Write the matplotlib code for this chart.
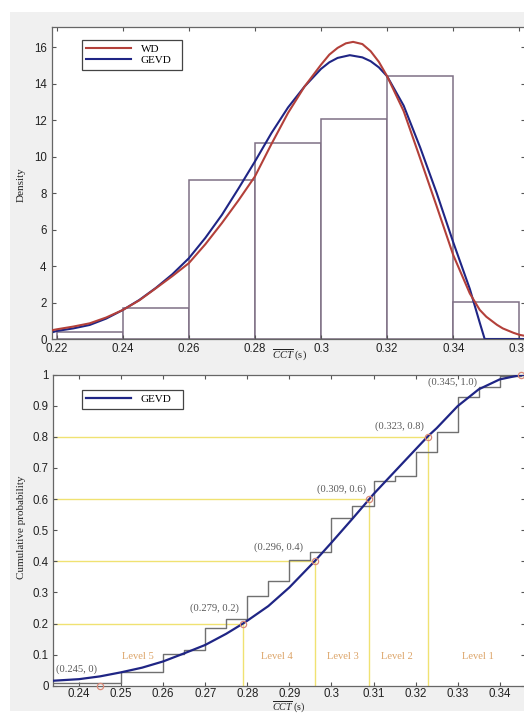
import matplotlib
matplotlib.use("Agg")
import matplotlib.pyplot as plt
from matplotlib.patches import Rectangle

# ---------------- data ----------------
# histogram of CCT (density), bin width 0.02
hist_left = [0.22, 0.24, 0.26, 0.28, 0.30, 0.32, 0.34]
hist_density = [0.37, 1.69, 8.74, 10.75, 12.09, 14.41, 2.05]
bin_width = 0.02

# fitted density curves
wd_x = [0.2186, 0.22, 0.225, 0.23, 0.235, 0.24, 0.245, 0.25, 0.255, 0.26,
        0.265, 0.27, 0.275, 0.28, 0.285, 0.29, 0.295, 0.30, 0.3025, 0.305,
        0.3075, 0.3097, 0.3125, 0.315, 0.3175, 0.32, 0.325, 0.33, 0.335, 0.34,
        0.345, 0.348, 0.35, 0.3532, 0.355, 0.3582, 0.36, 0.362]
wd_pdf = [0.48, 0.53, 0.68, 0.86, 1.18, 1.59, 2.12, 2.78, 3.45, 4.16,
          5.20, 6.36, 7.60, 8.92, 10.70, 12.40, 13.85, 15.05, 15.60, 15.97,
          16.22, 16.30, 16.18, 15.79, 15.20, 14.41, 12.50, 9.90, 7.27, 4.60,
          2.50, 1.60, 1.22, 0.78, 0.58, 0.34, 0.23, 0.16]

gevd_x = [0.2186, 0.22, 0.225, 0.23, 0.235, 0.24, 0.245, 0.25, 0.255, 0.26,
          0.265, 0.27, 0.275, 0.28, 0.285, 0.29, 0.295, 0.30, 0.3025, 0.305,
          0.3087, 0.3125, 0.315, 0.3175, 0.32, 0.325, 0.33, 0.335, 0.34, 0.345,
          0.348, 0.3495, 0.362]
gevd_pdf = [0.36, 0.44, 0.58, 0.77, 1.12, 1.59, 2.14, 2.80, 3.55, 4.43,
            5.55, 6.81, 8.25, 9.74, 11.30, 12.70, 13.85, 14.82, 15.18, 15.42,
            15.57, 15.45, 15.24, 14.90, 14.41, 12.80, 10.50, 8.00, 5.30, 2.75,
            0.90, 0.0, 0.0]

# empirical cumulative probability (step values after each x)
ecdf_x = [0.23, 0.25, 0.26, 0.265, 0.27, 0.275, 0.28, 0.285, 0.29, 0.295,
          0.30, 0.305, 0.31, 0.315, 0.32, 0.325, 0.33, 0.335, 0.34, 0.345, 0.35]
ecdf_p = [0.010, 0.043, 0.102, 0.115, 0.186, 0.216, 0.287, 0.338, 0.403, 0.431,
          0.539, 0.578, 0.659, 0.673, 0.753, 0.815, 0.929, 0.962, 0.995, 1.0, 1.0]

# fitted GEVD cumulative curve
cdf_x = [0.2339, 0.24, 0.245, 0.25, 0.255, 0.26, 0.265, 0.27, 0.275, 0.279,
         0.28, 0.285, 0.29, 0.296, 0.30, 0.305, 0.309, 0.31, 0.315, 0.32,
         0.323, 0.325, 0.33, 0.335, 0.34, 0.345, 0.347]
cdf_gevd = [0.016, 0.021, 0.030, 0.043, 0.058, 0.078, 0.104, 0.131, 0.167, 0.200,
            0.209, 0.256, 0.316, 0.400, 0.460, 0.537, 0.600, 0.616, 0.688, 0.760,
            0.803, 0.828, 0.899, 0.953, 0.985, 0.999, 1.0]

# CCT level thresholds
level_pts_x = [0.245, 0.279, 0.296, 0.309, 0.323, 0.345]
level_pts_p = [0.0, 0.2, 0.4, 0.6, 0.8, 1.0]
level_pt_labels = ["(0.245, 0)", "(0.279, 0.2)", "(0.296, 0.4)",
                   "(0.309, 0.6)", "(0.323, 0.8)", "(0.345, 1.0)"]
level_names = ["Level 5", "Level 4", "Level 3", "Level 2", "Level 1"]
level_name_x = [0.2539, 0.2870, 0.3027, 0.3155, 0.3347]

# ---------------- style ----------------
plt.rcParams.update({
    "font.family": ["Liberation Sans", "DejaVu Sans"],
    "mathtext.fontset": "custom",
    "mathtext.rm": "Liberation Serif",
    "mathtext.it": "Liberation Serif:italic",
    "axes.edgecolor": "#666666",
    "axes.linewidth": 0.9,
    "xtick.direction": "in",
    "ytick.direction": "in",
    "xtick.top": True,
    "ytick.right": True,
    "xtick.major.size": 3.2,
    "ytick.major.size": 3.2,
    "xtick.color": "#555555",
    "ytick.color": "#555555",
    "xtick.labelcolor": "#222222",
    "ytick.labelcolor": "#222222",
    "xtick.labelsize": 8.3,
    "ytick.labelsize": 8.3,
    "xtick.major.pad": 2.3,
    "ytick.major.pad": 3.2,
})

SERIF = ["Liberation Serif", "DejaVu Serif"]
RED = "#b3403a"
BLUE = "#1f2585"
HIST_EDGE = "#7e7085"
STAIR = "#707070"
YELLOW = "#f0e272"
LEVEL_TXT = "#dca468"
NOTE_TXT = "#5a5a5a"

W, H = 524, 713
fig = plt.figure(figsize=(W / 100, H / 100), dpi=100, facecolor="white")
# grey figure panel
fig.patches.append(Rectangle((10 / W, 2 / H), 1.0, (H - 14) / H,
                             transform=fig.transFigure, facecolor="#f0f0f0",
                             edgecolor="none", zorder=-10))


def fmt(v):
    return f"{v:.2f}".rstrip("0").rstrip(".")


def axes_px(left, right, top, bottom):
    return fig.add_axes([left / W, 1 - bottom / H, (right - left) / W, (bottom - top) / H])


# ---------------- top: density ----------------
ax1 = axes_px(52, 525, 27.3, 339)
ax1.bar(hist_left, hist_density, width=bin_width, align="edge",
        facecolor="white", edgecolor=HIST_EDGE, linewidth=1.1, zorder=1)
ax1.plot(wd_x, wd_pdf, color=RED, lw=1.5, label="WD", zorder=3)
ax1.plot(gevd_x, gevd_pdf, color=BLUE, lw=1.5, label="GEVD", zorder=2)
ax1.set_xlim(0.2186, 0.3617)
ax1.set_ylim(0, 17.1)
xt1 = [0.22, 0.24, 0.26, 0.28, 0.30, 0.32, 0.34, 0.36]
ax1.set_xticks(xt1)
ax1.set_xticklabels([fmt(v) for v in xt1])
ax1.tick_params(axis="x", pad=2.9)
yt1 = list(range(0, 17, 2))
ax1.set_yticks(yt1)
ax1.set_yticklabels([str(v) for v in yt1])
ax1.tick_params(axis="y", pad=3.8)
ax1.set_ylabel("Density", family=SERIF, fontsize=8, color="#222222")
ax1.yaxis.set_label_coords(-0.056, 0.494)
ax1.set_xlabel(r"$\overline{CCT}$ (s)", family=SERIF, fontsize=7.6, color="#222222")
ax1.xaxis.set_label_coords(0.503, -0.028)
leg1 = ax1.legend(loc="upper left", bbox_to_anchor=(0.0628, 0.959 - 0.11, 0.2115, 0.11),
                  mode="expand", borderaxespad=0, fancybox=False, framealpha=1,
                  edgecolor="#444444", prop={"family": SERIF, "size": 8},
                  handlelength=4.0, handletextpad=0.9, borderpad=0.4, labelspacing=0.1)
leg1.get_frame().set_linewidth(0.9)

# ---------------- bottom: cumulative ----------------
ax2 = axes_px(53.3, 525, 374.7, 685.7)
for x, p in zip(level_pts_x[1:5], level_pts_p[1:5]):
    ax2.plot([0.2339, x], [p, p], color=YELLOW, lw=1.0, zorder=1)
    ax2.plot([x, x], [0, p], color=YELLOW, lw=1.0, zorder=1)
ax2.step(ecdf_x, ecdf_p, where="post", color=STAIR, lw=1.0, zorder=2)
ax2.plot(cdf_x, cdf_gevd, color=BLUE, lw=1.6, label="GEVD", zorder=3)
ax2.plot(level_pts_x, level_pts_p, linestyle="none", marker="o", markersize=4.5,
         markerfacecolor="none", markeredgecolor="#d98a78", markeredgewidth=0.9,
         zorder=4, clip_on=False)

note_pos = [(0.2394, 0.052), (0.2721, 0.249), (0.2875, 0.444),
            (0.3024, 0.632), (0.3161, 0.836), (0.3288, 0.975)]
for (tx, ty), s in zip(note_pos, level_pt_labels):
    ax2.text(tx, ty, s, ha="center", va="center", family=SERIF, fontsize=7.6,
             color=NOTE_TXT, zorder=5)
for tx, s in zip(level_name_x, level_names):
    ax2.text(tx, 0.094, s, ha="center", va="center", family=SERIF, fontsize=7.6,
             color=LEVEL_TXT, zorder=5)

ax2.set_xlim(0.2339, 0.3460)
ax2.set_ylim(0, 1)
xt2 = [0.24, 0.25, 0.26, 0.27, 0.28, 0.29, 0.30, 0.31, 0.32, 0.33, 0.34]
ax2.set_xticks(xt2)
ax2.set_xticklabels([fmt(v) for v in xt2])
ax2.tick_params(axis="x", pad=1.8)
yt2 = [i / 10 for i in range(11)]
ax2.set_yticks(yt2)
ax2.set_yticklabels(["0" if v == 0 else ("1" if v == 1 else f"{v:.1f}") for v in yt2])
ax2.set_ylabel("Cumulative probability", family=SERIF, fontsize=8, color="#222222")
ax2.yaxis.set_label_coords(-0.058, 0.51)
ax2.set_xlabel(r"$\overline{CCT}$ (s)", family=SERIF, fontsize=7.2, color="#222222")
ax2.xaxis.set_label_coords(0.4997, -0.044)
leg2 = ax2.legend(loc="upper left", bbox_to_anchor=(0.0608, 0.951 - 0.062, 0.214, 0.062),
                  mode="expand", borderaxespad=0, fancybox=False, framealpha=1,
                  edgecolor="#444444", prop={"family": SERIF, "size": 8},
                  handlelength=4.0, handletextpad=0.9, borderpad=0.4)
leg2.get_frame().set_linewidth(0.9)

fig.savefig("out.png", dpi=100, facecolor=fig.get_facecolor())
